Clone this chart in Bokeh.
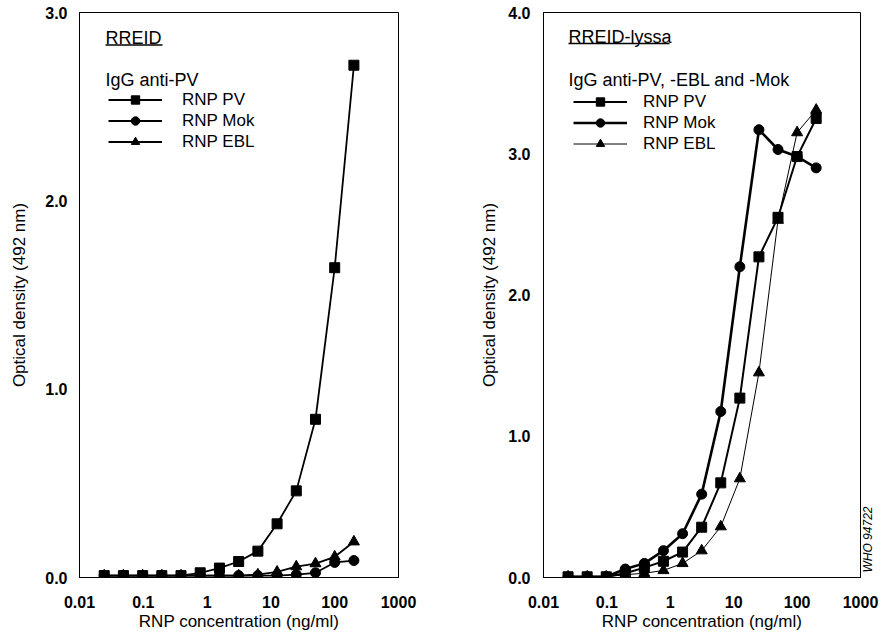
import math
from bokeh.plotting import figure
from bokeh.models import (Range1d, FixedTicker, CustomJSTickFormatter, NumeralTickFormatter,
                          Legend, LegendItem, Label, BoxAnnotation, ColumnDataSource, LinearAxis)
from bokeh.layouts import row
from bokeh.embed import file_html
from bokeh.resources import INLINE

# ---------------- data ----------------
conc = [0.0244, 0.0488, 0.0977, 0.195, 0.39, 0.78, 1.5625, 3.125, 6.25, 12.5, 25, 50, 100, 200]

# RREID (IgG anti-PV)
pv_left = [0.01, 0.01, 0.01, 0.01, 0.01, 0.025, 0.05, 0.085, 0.14, 0.285, 0.46, 0.84, 1.645, 2.72]
mok_left = [0.01, 0.01, 0.01, 0.01, 0.01, 0.01, 0.01, 0.01, 0.01, 0.01, 0.015, 0.025, 0.08, 0.09]
ebl_left = [0.01, 0.01, 0.01, 0.01, 0.01, 0.01, 0.01, 0.01, 0.015, 0.03, 0.058, 0.074, 0.11, 0.19]

# RREID-lyssa (IgG anti-PV, -EBL and -Mok)
pv_right = [0.005, 0.005, 0.005, 0.03, 0.07, 0.115, 0.18, 0.356, 0.67, 1.27, 2.27, 2.55, 2.98, 3.25]
mok_right = [0.005, 0.005, 0.005, 0.06, 0.1, 0.19, 0.31, 0.59, 1.175, 2.2, 3.17, 3.03, 2.98, 2.9]
ebl_right = [0.005, 0.005, 0.005, 0.02, 0.03, 0.05, 0.1, 0.19, 0.36, 0.7, 1.45, 2.53, 3.15, 3.31]

x_ticks = [0.01, 0.1, 1, 10, 100, 1000]
y_ticks_left = [0, 1, 2, 3]
y_ticks_right = [0, 1, 2, 3, 4]

series_names = ["RNP PV", "RNP Mok", "RNP EBL"]
markers = ["square", "circle", "triangle"]

FONT = "Liberation Sans"


def make_fig(w, h, ml, mr, mt, mb, ymax, yticks, ystand, ylabstand):
    p = figure(width=w, height=h, x_axis_type="log",
               x_range=Range1d(0.01, 1000), y_range=Range1d(0, ymax),
               output_backend="svg", toolbar_location=None,
               min_border_left=ml, min_border_right=mr, min_border_top=mt, min_border_bottom=mb)
    p.grid.visible = False
    p.outline_line_color = "black"
    p.outline_line_width = 1
    p.background_fill_color = "white"
    p.border_fill_color = "white"

    p.xaxis.ticker = FixedTicker(ticks=x_ticks)
    p.xaxis.formatter = CustomJSTickFormatter(code="return tick.toString();")
    p.yaxis.ticker = FixedTicker(ticks=yticks)
    p.yaxis.formatter = NumeralTickFormatter(format="0.0")
    for ax in (p.xaxis, p.yaxis):
        ax.axis_line_color = "black"
        ax.axis_line_width = 1
        ax.major_tick_out = 0
        ax.major_tick_in = 0
        ax.minor_tick_line_color = None
        ax.major_tick_line_color = None
        ax.major_label_text_font = FONT
        ax.major_label_text_font_size = "16px"
        ax.major_label_text_font_style = "bold"
        ax.major_label_text_color = "black"
        ax.axis_label_text_font = FONT
        ax.axis_label_text_font_size = "17px"
        ax.axis_label_text_font_style = "normal"
        ax.axis_label_text_color = "black"
    p.xaxis.axis_label = "RNP concentration (ng/ml)"
    p.yaxis.axis_label = "Optical density (492 nm)"
    p.xaxis.major_label_standoff = 18
    p.xaxis.axis_label_standoff = 1
    p.yaxis.major_label_standoff = ystand
    p.yaxis.axis_label_standoff = ylabstand
    return p


def add_series(p, ys_list, widths, legend_xy, standoff):
    items = []
    for name, ys, mk, lw in zip(series_names, ys_list, markers, widths):
        src = ColumnDataSource(dict(x=conc, y=ys))
        r1 = p.line("x", "y", source=src, line_color="black", line_width=lw)
        size = 10 if mk != "triangle" else 11
        r2 = p.scatter("x", "y", source=src, marker=mk, size=size,
                       fill_color="black", line_color="black")
        items.append(LegendItem(label=name, renderers=[r1, r2]))
    leg = Legend(items=items, location=legend_xy, padding=0, margin=0,
                 border_line_alpha=0, background_fill_alpha=0,
                 glyph_width=54, glyph_height=21, label_height=21, spacing=0,
                 label_standoff=standoff,
                 label_text_font=FONT, label_text_font_size="17px", label_text_color="black")
    p.add_layout(leg, "center")


def add_text(p, text, x, y, size="18px", underline=None):
    p.add_layout(Label(x=x, y=y, x_units="screen", y_units="screen", text=text,
                       text_font=FONT, text_font_size=size, text_color="black",
                       text_baseline="middle", text_align="left"))
    if underline:
        uw, uy = underline
        p.add_layout(BoxAnnotation(left=x, right=x + uw, bottom=uy - 0.7, top=uy + 0.7,
                                   left_units="screen", right_units="screen",
                                   top_units="screen", bottom_units="screen",
                                   fill_color="black", fill_alpha=1, line_alpha=0, editable=False))


# left panel: frame x 79..398, y 12..579 (page has no margin)
p1 = make_fig(470, 636, 79, 72, 12, 57, 3, y_ticks_left, 12, 13)
add_series(p1, [pv_left, mok_left, ebl_left], [1.8, 1.8, 1.8], (29, 425), 20)
add_text(p1, "RREID", 26, 540, underline=(57, 532.5))
add_text(p1, "IgG  anti-PV", 26, 498)

# right panel: frame x 543..860, y 12..577
p2 = make_fig(415, 636, 73, 25, 12, 59, 4, y_ticks_right, 13, 6)
add_series(p2, [pv_right, mok_right, ebl_right], [2, 2.6, 1], (30, 423), 16)
add_text(p2, "RREID-lyssa", 25, 541, underline=(101, 534))
add_text(p2, "IgG  anti-PV, -EBL and  -Mok", 25, 498)

# figure code, written vertically at the lower right outside the frame
who_axis = LinearAxis(ticker=FixedTicker(ticks=[0.035]),
                      formatter=CustomJSTickFormatter(code="return 'WHO 94722';"),
                      axis_line_color=None, major_tick_line_color=None, minor_tick_line_color=None,
                      major_tick_out=0, major_tick_in=0, major_label_standoff=8,
                      major_label_orientation=math.pi / 2,
                      major_label_text_font=FONT, major_label_text_font_size="12px",
                      major_label_text_font_style="italic", major_label_text_color="black")
p2.add_layout(who_axis, "right")

layout = row(p1, p2)
open("out.html", "w").write(file_html(layout, INLINE))
